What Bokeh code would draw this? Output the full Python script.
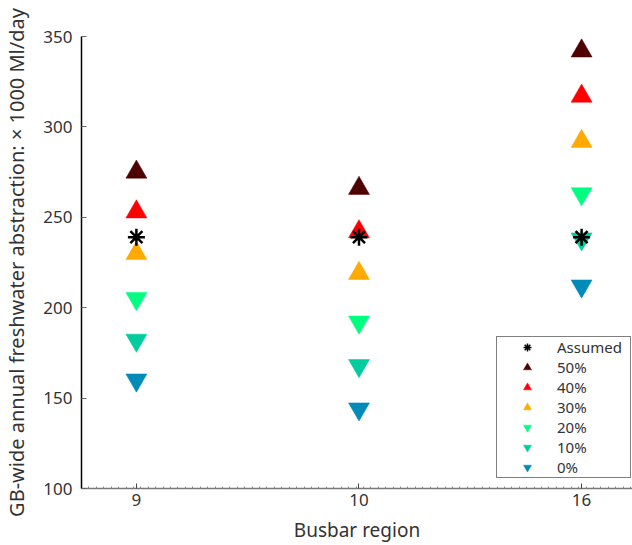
import numpy as np
from bokeh.plotting import figure
from bokeh.models import Range1d, FixedTicker, Legend, LegendItem, ColumnDataSource
from bokeh.embed import file_html
from bokeh.resources import INLINE

# ---- data ----
regions = ["9", "10", "16"]
xpos = [1, 2, 3]
assumed = [239, 239, 239]
v50 = [275, 266, 342]
v40 = [253, 242, 317]
v30 = [230, 219, 292]
v20 = [205, 192, 263]
v10 = [182, 168, 238]
v0 = [160, 144, 212]
y_ticks = [100, 150, 200, 250, 300, 350]

series = [
    ("50%", v50, "triangle", "#4f0000"),
    ("40%", v40, "triangle", "#ff0000"),
    ("30%", v30, "triangle", "#ffaa00"),
    ("20%", v20, "inverted_triangle", "#00ff80"),
    ("10%", v10, "inverted_triangle", "#00cc9f"),
    ("0%", v0, "inverted_triangle", "#008bb9"),
]

FONT = "Noto Sans"
TXT = "#333333"
X0, X1 = 0.7534, 3.2287

p = figure(width=632, height=545, output_backend="svg", toolbar_location=None,
           x_range=Range1d(X0, X1), y_range=Range1d(100, 350),
           min_border_left=80, min_border_right=0, min_border_top=36,
           min_border_bottom=55)
p.outline_line_color = None
p.xgrid.visible = False
p.ygrid.visible = False

renderers = {}
for label, vals, marker, color in series:
    src = ColumnDataSource(dict(x=xpos, y=vals))
    r = p.scatter("x", "y", source=src, marker=marker, size=21,
                  fill_color=color, line_color=color, line_width=0.5)
    renderers[label] = r

src_a = ColumnDataSource(dict(x=xpos, y=assumed))
ra = p.scatter("x", "y", source=src_a, marker="asterisk", size=17,
               line_color="black", line_width=2.5)
# legend proxy for the asterisk (thinner stroke at legend size), not drawn in plot
ra_leg = p.scatter(x=[float("nan")], y=[float("nan")], marker="asterisk",
                   size=17, line_color="black", line_width=1.5)

items = [LegendItem(label="Assumed", renderers=[ra_leg])]
for label, _, _, _ in series:
    items.append(LegendItem(label=label, renderers=[renderers[label]]))

legend = Legend(items=items, location=(415, 10), padding=0, spacing=0,
                glyph_height=20, glyph_width=60, label_height=20,
                label_width=73, label_standoff=0,
                label_text_font=FONT, label_text_font_size="15px",
                label_text_color=TXT, border_line_color="black",
                border_line_width=1.5, background_fill_alpha=1.0)
p.add_layout(legend)

# x axis
p.xaxis.ticker = FixedTicker(ticks=xpos,
                             minor_ticks=list(np.arange(X0, X1, 1 / 30)))
p.xaxis.major_label_overrides = {x: s for x, s in zip(xpos, regions)}
p.xaxis.axis_label = "Busbar region"
p.xaxis.axis_line_color = "#777777"
p.xaxis.axis_line_width = 1.5
p.xaxis.major_tick_in = 5
p.xaxis.major_tick_out = 0
p.xaxis.major_tick_line_color = "#444444"
p.xaxis.minor_tick_in = 2
p.xaxis.minor_tick_out = 0
p.xaxis.minor_tick_line_color = "#888888"
p.xaxis.major_label_standoff = 5
p.xaxis.axis_label_standoff = 8
p.xaxis.axis_label_text_font_size = "19px"

# y axis
p.yaxis.ticker = FixedTicker(ticks=y_ticks)
p.yaxis.axis_label = "GB-wide annual freshwater abstraction: \u00d7 1000 Ml/day"
p.yaxis.axis_line_color = "black"
p.yaxis.axis_line_width = 1.5
p.yaxis.major_tick_in = 5
p.yaxis.major_tick_out = 0
p.yaxis.major_tick_line_color = "#666666"
p.yaxis.minor_tick_line_color = None
p.yaxis.major_label_standoff = 9
p.yaxis.axis_label_standoff = 10
p.yaxis.axis_label_text_font_size = "20px"

for ax in (p.xaxis, p.yaxis):
    ax.major_label_text_font = FONT
    ax.major_label_text_font_size = "17px"
    ax.major_label_text_color = TXT
    ax.axis_label_text_font = FONT
    ax.axis_label_text_font_style = "normal"
    ax.axis_label_text_color = TXT

open("out.html", "w").write(file_html(p, INLINE))
